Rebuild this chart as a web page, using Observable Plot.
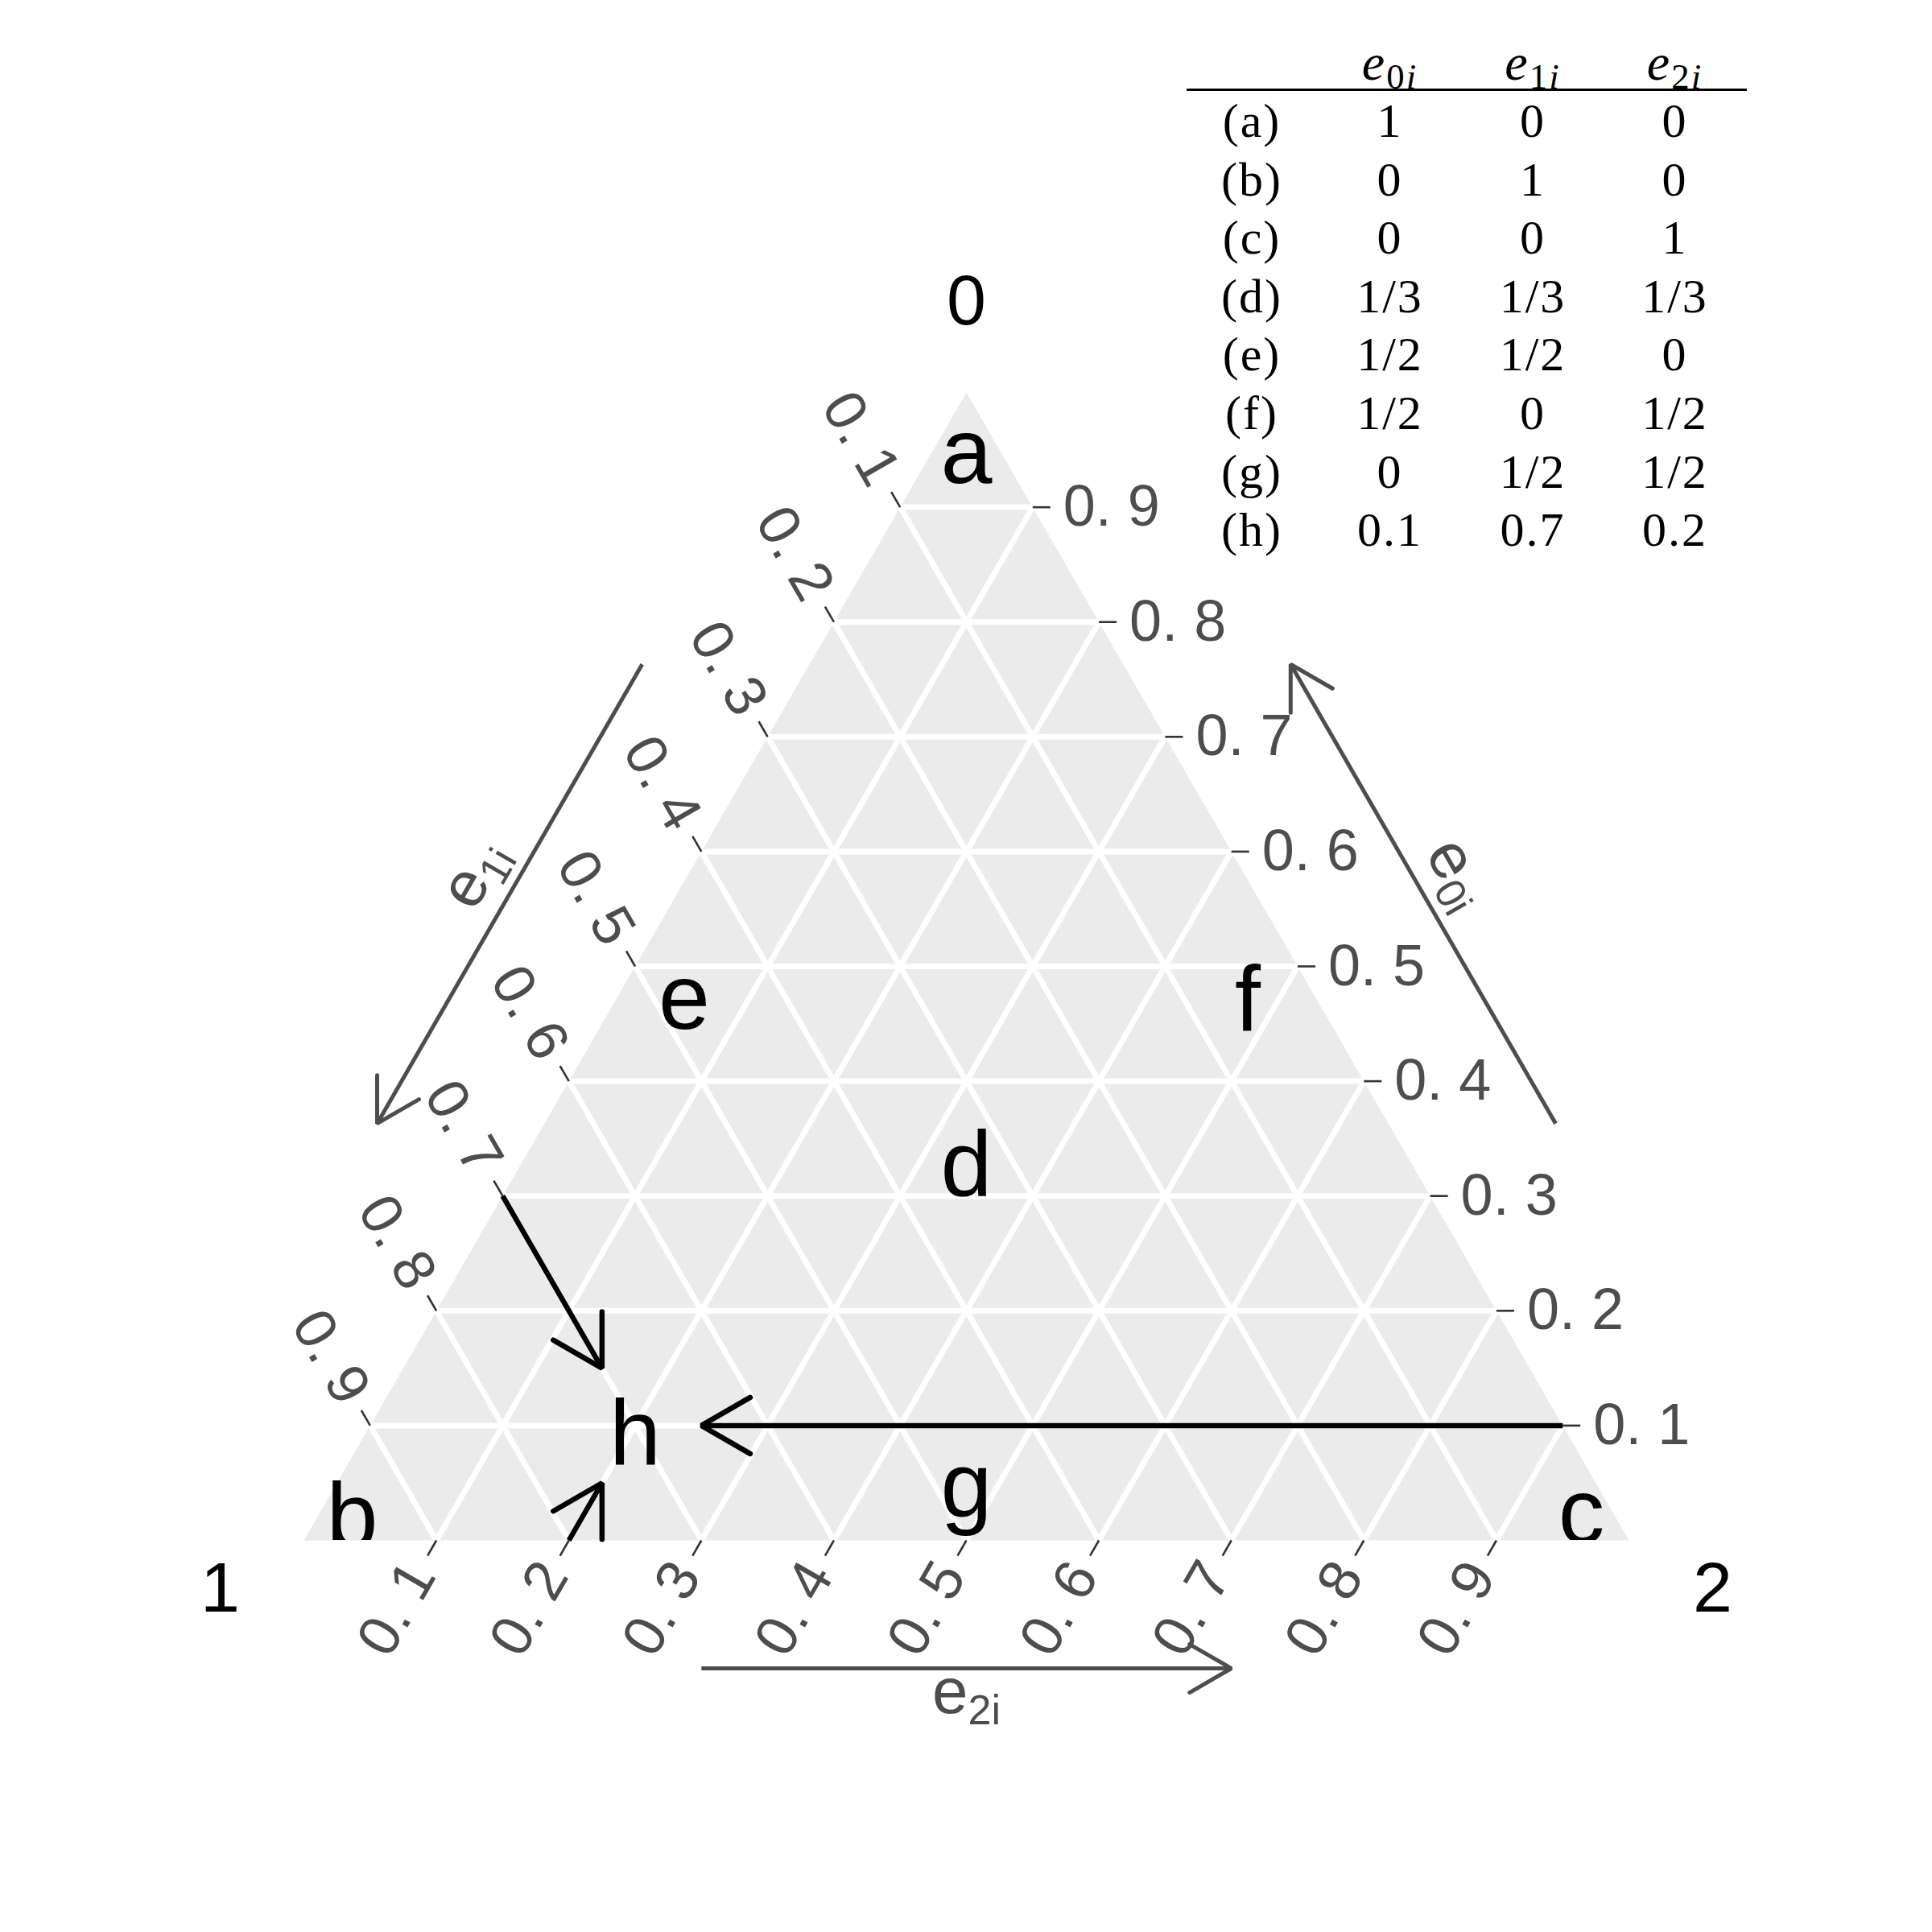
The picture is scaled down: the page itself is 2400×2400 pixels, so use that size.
<!DOCTYPE html>
<html>
<head>
<meta charset="utf-8">
<script src="https://cdn.jsdelivr.net/npm/d3@7"></script>
<script src="https://cdn.jsdelivr.net/npm/@observablehq/plot@0.6"></script>
<style>
  body { margin: 0; background: #fff; }
  #wrap { position: relative; width: 2400px; height: 2400px; }
  #tbl { position: absolute; left: 1474px; top: 46px; border-collapse: collapse;
         font-family: "Liberation Serif", "DejaVu Serif", serif; font-size: 60px; color: #000; }
  #tbl td, #tbl th { padding: 0; text-align: center; font-weight: normal; line-height: 1; height: 72.6px; letter-spacing: 2px; }
  #tbl tbody td { vertical-align: top; padding-top: 7px; height: 65.6px; }
  #tbl thead th { height: 62px; border-bottom: 3px solid #000; vertical-align: middle; font-size: 64px; }
  #tbl sub { font-size: 0.7em; line-height: 0; vertical-align: -0.25em; }
</style>
</head>
<body>
<div id="wrap"></div>
<script>
// ---------------- data ----------------
const vertexNames = ["0", "1", "2"];
const pointLabels = ["a", "b", "c", "d", "e", "f", "g", "h"];
const e0 = [1, 0, 0, 1/3, 1/2, 1/2, 0, 0.1];
const e1 = [0, 1, 0, 1/3, 1/2, 0, 1/2, 0.7];
const e2 = [0, 0, 1, 1/3, 0, 1/2, 1/2, 0.2];
const e0Text = ["1", "0", "0", "1/3", "1/2", "1/2", "0", "0.1"];
const e1Text = ["0", "1", "0", "1/3", "1/2", "0", "1/2", "0.7"];
const e2Text = ["0", "0", "1", "1/3", "0", "1/2", "1/2", "0.2"];
const tableHeads = ["0", "1", "2"];
const ticks = [0.1, 0.2, 0.3, 0.4, 0.5, 0.6, 0.7, 0.8, 0.9];
const tickLabels = ["0. 1", "0. 2", "0. 3", "0. 4", "0. 5", "0. 6", "0. 7", "0. 8", "0. 9"];
const axisTitles = ["e0i", "e1i", "e2i"];
const axisArrowFrom = 0.3;
const axisArrowTo = 0.7;
// arrows pointing at (h)
const arrowFromE0 = [0.3, 0.1, 0];
const arrowFromE1 = [0.7, 0, 0.8];
const arrowFromE2 = [0, 0.9, 0.2];
const arrowToE0 = [0.15, 0.1, 0.05];
const arrowToE1 = [0.7, 0.65, 0.75];
const arrowToE2 = [0.15, 0.25, 0.2];

// ---------------- layout / style ----------------
const W = 2400, H = 2400, ML = 377, MR = 377, MT = 487, MB = 487;
const PX = 1 / (W - ML - MR);           // data units per pixel
const S = Math.sqrt(3) / 2;
const cart = (a, b, c) => [c + a / 2, a * S];
const shift = (p, sx, sy, len) => [p[0] + sx * len * PX, p[1] - sy * len * PX];
const GRAY = "#4d4d4d";
const FONT = "'Liberation Sans', Arial, Helvetica, sans-serif";

// letter nudges in pixels (screen)
const nudge = {a: [0, 76], b: [60, -28], c: [-59, -33], d: [0, 10], e: [61, 41], f: [-62, 43], g: [0, -66], h: [0, 11]};
const vertexNudge = [[0, -113], [-104, 60], [104, 60]];

function head(tip, from, len, halfAngle) {
  const dx = from[0] - tip[0], dy = from[1] - tip[1];
  const n = Math.hypot(dx, dy), ux = dx / n, uy = dy / n;
  const a = halfAngle * Math.PI / 180, L = len * PX;
  const r = (c, s) => [tip[0] + L * (ux * c - uy * s), tip[1] + L * (ux * s + uy * c)];
  return [r(Math.cos(a), Math.sin(a)), tip, r(Math.cos(a), -Math.sin(a))];
}

// ---------------- derived geometry ----------------
const verts = [cart(1, 0, 0), cart(0, 1, 0), cart(0, 0, 1)];
const triangle = verts.map(([x, y]) => ({x, y}));

const gridSegs = ticks.flatMap(t => [
  [cart(t, 1 - t, 0), cart(t, 0, 1 - t)],
  [cart(1 - t, t, 0), cart(0, t, 1 - t)],
  [cart(1 - t, 0, t), cart(0, 1 - t, t)]
]).map(([a, b]) => ({x1: a[0], y1: a[1], x2: b[0], y2: b[1]}));

// the three edges: point at value t, outward screen normal, tick direction, arrow offset
const edges = [
  {pt: t => cart(t, 0, 1 - t), n: [Math.sqrt(3) / 2, -0.5], td: [1, 0], off: 180, title: 232, rot: 60},
  {pt: t => cart(1 - t, t, 0), n: [-Math.sqrt(3) / 2, -0.5], td: [-0.5, -Math.sqrt(3) / 2], off: 180, title: 232, rot: -60},
  {pt: t => cart(0, 1 - t, t), n: [0, 1], td: [-0.5, Math.sqrt(3) / 2], off: 159, title: 189, rot: 0}
];
const TICK = 22, GAP = 16;

const tickSegs = [], tickText = [[], [], []];
edges.forEach((e, k) => {
  ticks.forEach((t, i) => {
    const p = e.pt(t), q = shift(p, e.td[0], e.td[1], TICK);
    tickSegs.push({x1: p[0], y1: p[1], x2: q[0], y2: q[1]});
    tickText[k].push({x: p[0], y: p[1], label: tickLabels[i]});
  });
});

const axisSegs = [], axisHeads = [], titleData = [];
edges.forEach((e, k) => {
  const a = shift(e.pt(axisArrowFrom), e.n[0], e.n[1], e.off);
  const b = shift(e.pt(axisArrowTo), e.n[0], e.n[1], e.off);
  axisSegs.push({x1: a[0], y1: a[1], x2: b[0], y2: b[1]});
  head(b, a, 60, 30).forEach(p => axisHeads.push({x: p[0], y: p[1], id: k}));
  const c = shift(e.pt((axisArrowFrom + axisArrowTo) / 2), e.n[0], e.n[1], e.title);
  titleData.push({x: c[0], y: c[1], text: axisTitles[k], rot: e.rot});
});

const arrowSegs = [], arrowHeads = [];
arrowFromE0.forEach((_, i) => {
  const a = cart(arrowFromE0[i], arrowFromE1[i], arrowFromE2[i]);
  const b = cart(arrowToE0[i], arrowToE1[i], arrowToE2[i]);
  arrowSegs.push({x1: a[0], y1: a[1], x2: b[0], y2: b[1]});
  head(b, a, 70, 30).forEach(p => arrowHeads.push({x: p[0], y: p[1], id: i}));
});

const vertexData = vertexNames.map((name, i) => {
  const p = verts[i];
  return {x: p[0] + vertexNudge[i][0] * PX, y: p[1] - vertexNudge[i][1] * PX, text: name};
});

const letterData = pointLabels.map((l, i) => {
  const p = cart(e0[i], e1[i], e2[i]);
  return {x: p[0] + nudge[l][0] * PX, y: p[1] - nudge[l][1] * PX, text: l};
});

// ---------------- plot ----------------
const chart = Plot.plot({
  width: W, height: H,
  marginLeft: ML, marginRight: MR, marginTop: MT, marginBottom: MB,
  x: {domain: [0, 1], axis: null},
  y: {domain: [0, S], axis: null},
  style: {background: "white", fontFamily: FONT},
  marks: [
    Plot.line(triangle, {x: "x", y: "y", fill: "#ebebeb", stroke: "none"}),
    Plot.link(gridSegs, {x1: "x1", y1: "y1", x2: "x2", y2: "y2", stroke: "white", strokeWidth: 7}),
    Plot.link(tickSegs, {x1: "x1", y1: "y1", x2: "x2", y2: "y2", stroke: "#333333", strokeWidth: 2.6}),
    Plot.text(tickText[0], {x: "x", y: "y", text: "label", dx: TICK + GAP, textAnchor: "start", fontSize: 72, fill: GRAY}),
    Plot.text(tickText[1], {x: "x", y: "y", text: "label", dx: -(TICK + GAP) * 0.5, dy: -(TICK + GAP) * Math.sqrt(3) / 2, rotate: 60, textAnchor: "end", fontSize: 72, fill: GRAY}),
    Plot.text(tickText[2], {x: "x", y: "y", text: "label", dx: -(TICK + GAP) * 0.5, dy: (TICK + GAP) * Math.sqrt(3) / 2, rotate: -60, textAnchor: "end", fontSize: 72, fill: GRAY}),
    Plot.link(axisSegs, {x1: "x1", y1: "y1", x2: "x2", y2: "y2", stroke: GRAY, strokeWidth: 5}),
    Plot.line(axisHeads, {x: "x", y: "y", z: "id", stroke: GRAY, strokeWidth: 5, strokeLinejoin: "miter"}),
    Plot.text(titleData, {x: "x", y: "y", text: "text", rotate: "rot", fontSize: 80, fill: GRAY}),
    Plot.text(vertexData, {x: "x", y: "y", text: "text", fontSize: 88, fill: "black"}),
    Plot.link(arrowSegs, {x1: "x1", y1: "y1", x2: "x2", y2: "y2", stroke: "black", strokeWidth: 6.5}),
    Plot.line(arrowHeads, {x: "x", y: "y", z: "id", stroke: "black", strokeWidth: 6.5, strokeLinejoin: "miter"}),
    Plot.text(letterData, {x: "x", y: "y", text: "text", fontSize: 115, fill: "black", clip: true})
  ]
});

// subscripts for axis titles (e_{0i} etc.)
chart.querySelectorAll("text").forEach(t => {
  const s = t.textContent;
  if (axisTitles.includes(s)) {
    t.textContent = "";
    const ns = "http://www.w3.org/2000/svg";
    const a = document.createElementNS(ns, "tspan");
    a.textContent = s[0];
    const b = document.createElementNS(ns, "tspan");
    b.textContent = s.slice(1);
    b.setAttribute("font-size", "52");
    b.setAttribute("dy", "14");
    t.appendChild(a); t.appendChild(b);
  }
});

const wrap = document.getElementById("wrap");
wrap.appendChild(chart);

// table
const tbl = document.createElement("table");
tbl.id = "tbl";
const colW = [162, 181, 174, 179];
const thead = document.createElement("thead");
const hr = document.createElement("tr");
["", ...tableHeads].forEach((h, j) => {
  const th = document.createElement("th");
  th.style.width = colW[j] + "px";
  if (h !== "") th.innerHTML = `<i>e</i><sub>${h}<i>i</i></sub>`;
  hr.appendChild(th);
});
thead.appendChild(hr);
tbl.appendChild(thead);
const tb = document.createElement("tbody");
pointLabels.forEach((l, i) => {
  const tr = document.createElement("tr");
  [`(${l})`, e0Text[i], e1Text[i], e2Text[i]].forEach((v, j) => {
    const td = document.createElement("td");
    td.style.width = colW[j] + "px";
    td.textContent = v;
    tr.appendChild(td);
  });
  tb.appendChild(tr);
});
tbl.appendChild(tb);
wrap.appendChild(tbl);
</script>
</body>
</html>
